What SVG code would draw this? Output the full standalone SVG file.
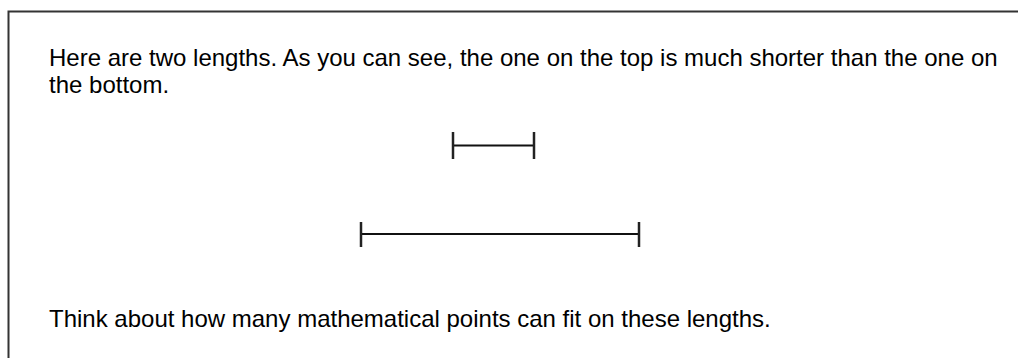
<svg xmlns="http://www.w3.org/2000/svg" width="1018" height="358" viewBox="0 0 1018 358">
<style>
.t{font-family:"Liberation Sans",Arial,Helvetica,sans-serif;font-size:24px;fill:#000}
.seg{stroke:#111;stroke-width:2;fill:none}
.tick{stroke:#222;stroke-width:2.5;fill:none}
</style>
<rect width="1018" height="358" fill="#fff"/>
<path d="M8.5 400 V11.5 H1100" fill="none" stroke="#333" stroke-width="2"/>
<g id="text-top">
<text class="t" x="49" y="66">Here are two lengths. As you can see, the one on the top is much shorter than the one on</text>
<text class="t" x="49" y="93">the bottom.</text>
</g>
<g id="short-length">
<line class="seg" x1="453" y1="145.5" x2="534" y2="145.5"/>
<line class="tick" x1="453" y1="132" x2="453" y2="159"/>
<line class="tick" x1="534" y1="132" x2="534" y2="159"/>
</g>
<g id="long-length">
<line class="seg" x1="361" y1="234" x2="639" y2="234"/>
<line class="tick" x1="361" y1="222" x2="361" y2="247"/>
<line class="tick" x1="639" y1="222" x2="639" y2="247"/>
</g>
<g id="text-bottom">
<text class="t" x="49" y="327">Think about how many mathematical points can fit on these lengths.</text>
</g>
</svg>
